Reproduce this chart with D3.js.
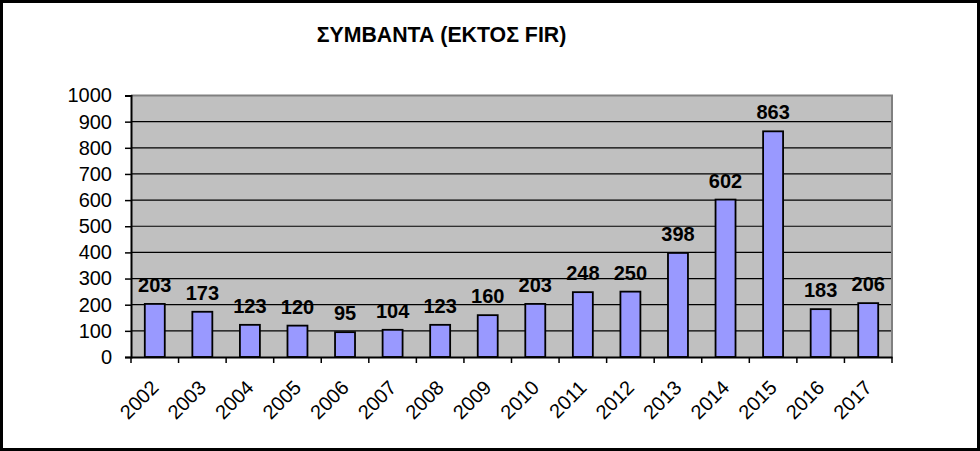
<!DOCTYPE html>
<html><head><meta charset="utf-8">
<script src="https://cdn.jsdelivr.net/npm/d3@7"></script>
<style>
html,body{margin:0;padding:0;background:#fff;}
svg text{font-family:"Liberation Sans",Arial,sans-serif;}
</style></head>
<body>
<svg id="c" width="980" height="451"></svg>
<script>
const title = "ΣΥΜΒΑΝΤΑ (ΕΚΤΟΣ FIR)";
const years = ["2002","2003","2004","2005","2006","2007","2008","2009","2010","2011","2012","2013","2014","2015","2016","2017"];
const values = [203,173,123,120,95,104,123,160,203,248,250,398,602,863,183,206];
const yTicks = [0,100,200,300,400,500,600,700,800,900,1000];

(function(){
const svg = d3.select("#c");
const W = 980, H = 451;
const pl = 131, pr = 892, pt = 95.5, pb = 357;

svg.append("rect").attr("x",1.5).attr("y",1.5).attr("width",W-3).attr("height",H-3)
  .attr("fill","#fff").attr("stroke","#000").attr("stroke-width",3);

svg.append("text").attr("x",441.5).attr("y",42).attr("text-anchor","middle")
  .attr("font-size",21.3).attr("font-weight","bold").text(title);

const x = d3.scaleBand().domain(years).range([pl,pr]).paddingInner(0.58).paddingOuter(0.29);
const xc = d3.scaleBand().domain(years).range([pl,pr]);
const y = d3.scaleLinear().domain([0,1000]).range([pb,pt]);

svg.append("rect").attr("x",pl).attr("y",pt).attr("width",pr-pl).attr("height",pb-pt)
  .attr("fill","#c0c0c0");

svg.append("g").selectAll("line").data(yTicks.filter(d=>d>0 && d<1000)).join("line")
  .attr("x1",pl).attr("x2",pr).attr("y1",d=>y(d)).attr("y2",d=>y(d))
  .attr("stroke","#000").attr("stroke-width",1.2);

svg.append("path").attr("d",`M${pl},${pt}H${pr}V${pb}`)
  .attr("fill","none").attr("stroke","#808080").attr("stroke-width",2);

svg.append("g").selectAll("rect").data(values).join("rect")
  .attr("x",(d,i)=>x(years[i])).attr("width",x.bandwidth())
  .attr("y",d=>y(d)).attr("height",d=>pb-y(d))
  .attr("fill","#9999ff").attr("stroke","#000").attr("stroke-width",1.8);

svg.append("g").selectAll("text").data(values).join("text")
  .attr("x",(d,i)=>xc(years[i])+xc.bandwidth()/2).attr("y",d=>y(d)-12)
  .attr("text-anchor","middle").attr("font-size",20).attr("font-weight","bold")
  .text(d=>d);

const ya = svg.append("g").attr("transform",`translate(${pl},0)`)
  .call(d3.axisLeft(y).tickValues(yTicks).tickSize(6).tickPadding(13).tickFormat(d3.format("d")));
ya.select(".domain").attr("stroke","#000").attr("stroke-width",2);
ya.selectAll(".tick line").attr("stroke","#000").attr("stroke-width",1.5);
ya.selectAll("text").attr("font-size",20).attr("fill","#000").attr("font-family","Liberation Sans, Arial, sans-serif");

const xa = svg.append("g").attr("transform",`translate(0,${pb})`)
  .call(d3.axisBottom(xc).tickSize(0).tickFormat(d=>d));
xa.select(".domain").attr("stroke","#000").attr("stroke-width",2);
svg.append("g").selectAll("line").data(d3.range(years.length+1)).join("line")
  .attr("x1",i=>pl+i*xc.step()).attr("x2",i=>pl+i*xc.step())
  .attr("y1",pb).attr("y2",pb+6).attr("stroke","#000").attr("stroke-width",1.5);
xa.selectAll("text").attr("font-size",20).attr("fill","#000")
  .attr("font-family","Liberation Sans, Arial, sans-serif")
  .attr("text-anchor","end").attr("dy",null).attr("y",0)
  .attr("transform","translate(5,32) rotate(-45)");
})();
</script>
</body></html>
